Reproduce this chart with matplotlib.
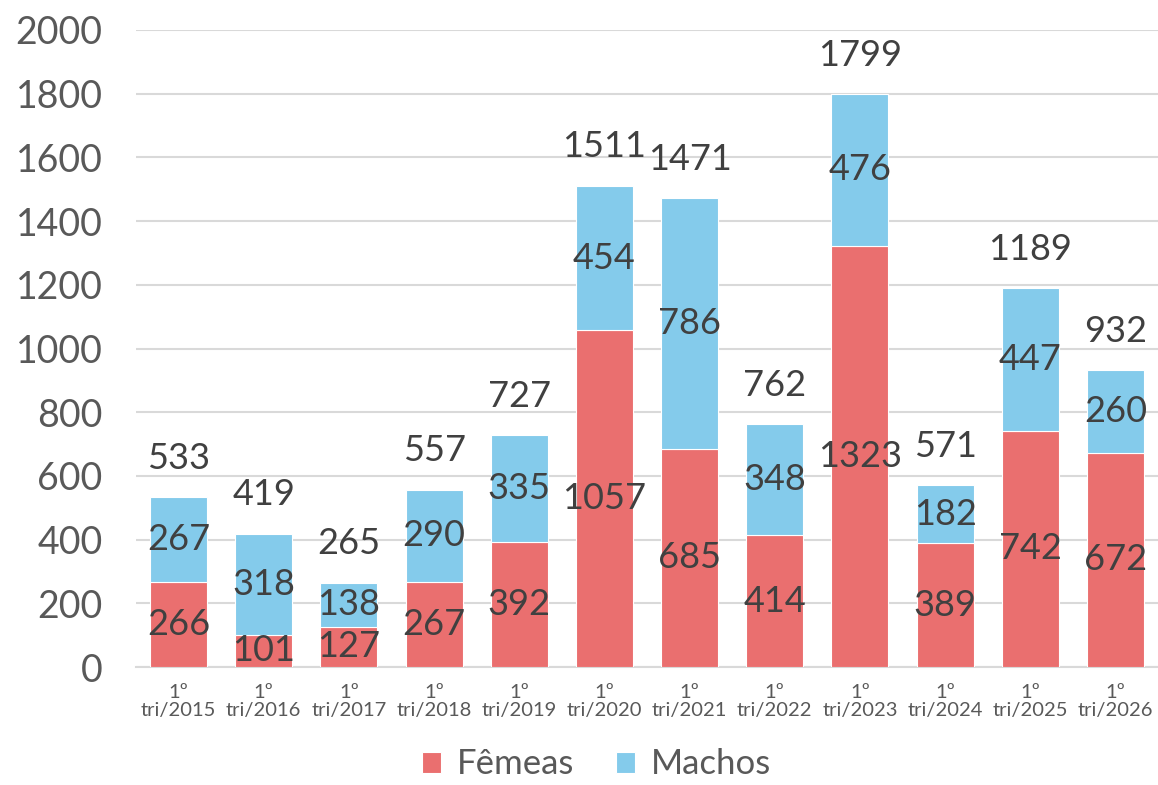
import matplotlib
matplotlib.use("Agg")
import matplotlib.pyplot as plt
import numpy as np

categories = ["1º\ntri/2015", "1º\ntri/2016", "1º\ntri/2017", "1º\ntri/2018", "1º\ntri/2019",
              "1º\ntri/2020", "1º\ntri/2021", "1º\ntri/2022", "1º\ntri/2023", "1º\ntri/2024",
              "1º\ntri/2025", "1º\ntri/2026"]
femeas = [266, 101, 127, 267, 392, 1057, 685, 414, 1323, 389, 742, 672]
machos = [267, 318, 138, 290, 335, 454, 786, 348, 476, 182, 447, 260]
yticks = [0, 200, 400, 600, 800, 1000, 1200, 1400, 1600, 1800, 2000]

plt.rcParams['font.family'] = ['Lato', 'DejaVu Sans']

red = "#EA6F6F"
blue = "#84CBEB"
tick_col = "#595959"
lab_col = "#404040"

fig = plt.figure(figsize=(11.58, 7.85), dpi=100)
ax = fig.add_axes([0.1174, 0.1503, 0.8826, 0.8115])

x = np.arange(len(categories))
fem = np.array(femeas)
mac = np.array(machos)
tot = fem + mac
w = 0.67
b1 = ax.bar(x, fem, w, color=red, edgecolor="white", linewidth=0.8, label="Fêmeas", zorder=3)
b2 = ax.bar(x, mac, w, bottom=fem, color=blue, edgecolor="white", linewidth=0.8, label="Machos", zorder=3)

for i in range(len(x)):
    ax.text(x[i], fem[i] / 2, str(fem[i]), ha="center", va="center", fontsize=26, color=lab_col, zorder=4)
    ax.text(x[i], fem[i] + mac[i] / 2, str(mac[i]), ha="center", va="center", fontsize=26, color=lab_col, zorder=4)
    ax.annotate(str(tot[i]), (x[i], tot[i]), xytext=(0, 28), textcoords="offset points",
                ha="center", va="center", fontsize=26, color=lab_col, zorder=4)

ax.set_xlim(-0.5, len(x) - 0.5)
ax.set_ylim(0, 2000)
ax.set_yticks(yticks)
ax.set_yticklabels([str(v) for v in yticks])
ax.set_xticks(x)
ax.set_xticklabels(categories, fontsize=14.5, color=tick_col, linespacing=1.1)
ax.tick_params(axis="y", labelsize=27, labelcolor=tick_col, length=0, pad=24)
ax.tick_params(axis="x", length=0, pad=12)
ax.grid(axis="y", color="#D9D9D9", linewidth=1.5, zorder=0)
ax.set_axisbelow(True)
for s in ["top", "right", "left"]:
    ax.spines[s].set_visible(False)
ax.spines["bottom"].set_color("#D9D9D9")
ax.spines["bottom"].set_linewidth(1.5)

fig.legend(handles=[b1, b2], labels=["Fêmeas", "Machos"], loc="lower center",
           bbox_to_anchor=(0.515, -0.034), ncol=2, frameon=False, fontsize=25,
           labelcolor=tick_col, handlelength=0.55, handleheight=0.55, handletextpad=0.45,
           columnspacing=1.2)

fig.savefig("out.png", dpi=100)
